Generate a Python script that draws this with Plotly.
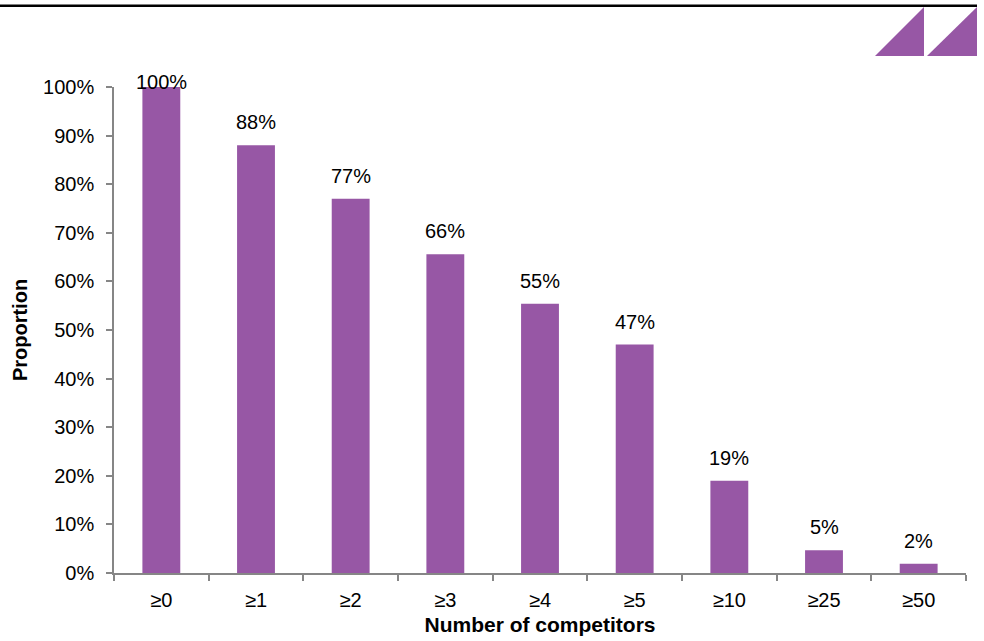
import plotly.graph_objects as go

categories = ["≥0", "≥1", "≥2", "≥3", "≥4", "≥5", "≥10", "≥25", "≥50"]
values = [1.00, 0.88, 0.77, 0.656, 0.554, 0.47, 0.19, 0.047, 0.019]
labels = ["100%", "88%", "77%", "66%", "55%", "47%", "19%", "5%", "2%"]
y_ticks = [i / 10 for i in range(11)]
y_tick_text = [f"{i*10}%" for i in range(11)]

PURPLE = "#9757A5"
AXIS = "#868686"
FONT = "Liberation Sans, Arial, sans-serif"
FS = 20

W, H = 984, 641
L, R, T, B = 114, 18, 87, 68
pw, ph = W - L - R, H - T - B


def px(x):
    return (x - L) / pw


def py(y):
    return (H - B - y) / ph


fig = go.Figure()
fig.add_trace(go.Bar(
    x=categories, y=values, marker=dict(color=PURPLE, line=dict(width=0)),
    width=0.4, showlegend=False, hoverinfo="skip",
))

annotations = []
for c, v, t in zip(categories, values, labels):
    annotations.append(dict(
        x=c, y=v, text=t, showarrow=False, xref="x", yref="y",
        yanchor="bottom", yshift=(10 if v < 0.95 else -8),
        font=dict(size=FS, color="#000000", family=FONT),
    ))

shapes = [
    dict(type="line", xref="paper", yref="paper",
         x0=px(0), x1=px(977), y0=py(5.7), y1=py(5.7),
         line=dict(color="#000000", width=2.5)),
    dict(type="path", xref="paper", yref="paper",
         path=f"M {px(875)},{py(56)} L {px(924)},{py(56)} L {px(924)},{py(7)} Z",
         fillcolor=PURPLE, line=dict(width=0)),
    dict(type="path", xref="paper", yref="paper",
         path=f"M {px(927)},{py(56)} L {px(977)},{py(56)} L {px(977)},{py(7)} Z",
         fillcolor=PURPLE, line=dict(width=0)),
]

fig.update_layout(
    width=W, height=H,
    margin=dict(l=L, r=R, t=T, b=B, pad=0, autoexpand=False),
    paper_bgcolor="white", plot_bgcolor="white",
    font=dict(family=FONT, size=FS, color="#000000"),
    annotations=annotations, shapes=shapes,
    xaxis=dict(
        type="category", showline=True, linecolor=AXIS, linewidth=1.5,
        ticks="outside", tickson="boundaries", ticklen=6, tickcolor=AXIS, tickwidth=1.5,
        showgrid=False, tickfont=dict(size=FS, family=FONT), ticklabelstandoff=8,
        title=dict(text="<b>Number of competitors</b>", font=dict(size=21, family=FONT), standoff=8),
        range=[-0.5, 8.5], fixedrange=True, automargin=False,
    ),
    yaxis=dict(
        range=[0, 1], tickvals=y_ticks, ticktext=y_tick_text,
        showline=True, linecolor=AXIS, linewidth=1.5,
        ticks="outside", ticklen=6, tickcolor=AXIS, tickwidth=1.5,
        showgrid=False, zeroline=False, tickfont=dict(size=FS, family=FONT), ticklabelstandoff=8,
        title=dict(text="<b>Proportion</b>", font=dict(size=20, family=FONT), standoff=10),
        fixedrange=True, automargin=False,
    ),
)

fig.write_html("out.html", config=dict(displayModeBar=False))
